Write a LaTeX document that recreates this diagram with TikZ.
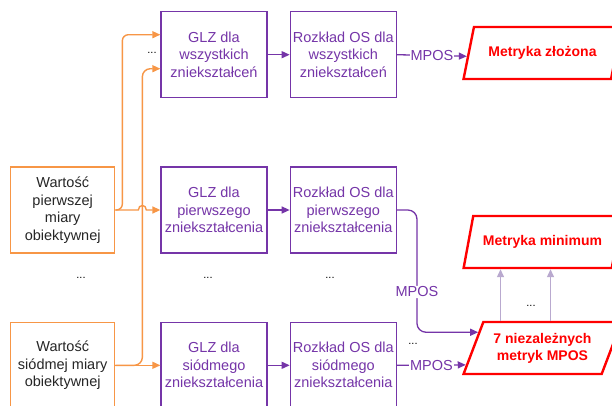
\documentclass[tikz,border=0pt]{standalone}
\usepackage{fontspec}
\setmainfont{Liberation Sans}
\usepackage{xcolor}
\usetikzlibrary{positioning,arrows.meta,shapes.geometric,calc}
\definecolor{orng}{HTML}{F79646}
\definecolor{purp}{HTML}{7535A8}
\definecolor{lgray}{HTML}{B9A9CF}

\begin{document}
\begin{tikzpicture}[x=1pt,y=-1pt,>={Triangle[length=8pt,width=7pt]},
	every node/.style={font=\fontsize{14.5}{17.5}\selectfont,align=center,inner sep=2pt},
	inbox/.style={draw=orng,line width=1.3pt,minimum width=104pt,minimum height=86pt,text=black!85},
	pbox/.style={draw=purp,line width=1.3pt,minimum width=106pt,minimum height=86pt,text=purp},
	metric/.style={trapezium,trapezium left angle=63.4,trapezium right angle=116.6,trapezium stretches=true,
		draw=red,line width=2.4pt,text=red,minimum width=158pt,minimum height=52pt,font=\fontsize{14}{17}\selectfont\bfseries},
	oline/.style={->,draw=orng,line width=1.4pt},
	pline/.style={->,draw=purp,line width=1.3pt},
	gline/.style={->,draw=lgray,line width=1.3pt},
	lbl/.style={fill=white,inner sep=1pt,text=purp},
	dots/.style={font=\fontsize{11}{13}\selectfont,anchor=base}]
	\path[use as bounding box,fill=white] (0,0) rectangle (612,405);

	\node[pbox] (glz2) at (214,210) {GLZ dla\\pierwszego\\zniekształcenia};
	\node[pbox] (glz1) [above=68pt of glz2] {GLZ dla\\wszystkich\\zniekształceń};
	\node[pbox] (glz3) [below=68pt of glz2] {GLZ dla\\siódmego\\zniekształcenia};
	\node[pbox] (roz1) [right=22pt of glz1] {Rozkład OS dla\\wszystkich\\zniekształceń};
	\node[pbox] (roz2) [right=22pt of glz2] {Rozkład OS dla\\pierwszego\\zniekształcenia};
	\node[pbox] (roz3) [right=22pt of glz3] {Rozkład OS dla\\siódmego\\zniekształcenia};
	\node[inbox] (in1) [left=45pt of glz2] {Wartość\\pierwszej\\miary\\obiektywnej};
	\node[inbox] (in2) [left=45pt of glz3] {Wartość\\siódmej miary\\obiektywnej};
	\node[metric] (zloz) at (542.5,53) {Metryka złożona};
	\node[metric] (mini) at (542.5,242) {Metryka minimum};
	\node[metric] (niez) at (542.5,348) {7 niezależnych\\metryk MPOS};

	\coordinate (e1) at ($(zloz.top left corner)!0.56!(zloz.bottom left corner)$);
	\coordinate (e2) at ($(niez.top left corner)!0.21!(niez.bottom left corner)$);
	\coordinate (e3) at ($(niez.top left corner)!0.81!(niez.bottom left corner)$);
	\coordinate (u1) at ($(niez.top left corner)+(18,0)$);
	\coordinate (u2) at ($(niez.top left corner)+(68,0)$);

	% orange inputs
	\draw[oline,rounded corners=6pt] (in1.east) -- ++(7,0) |- ([yshift=20pt]glz1.west);
	\draw[oline,rounded corners=8pt] (in2.east) -- ++(27,0) |- ([yshift=-14pt]glz1.west);
	\draw[oline] (in1.east) -- ++(23,0) .. controls +(0,-6) and +(0,-6) .. ++(8,0) -- (glz2.west);
	\draw[oline] (in2) -- (glz3);

	% purple flow
	\draw[pline] (glz1) -- (roz1);
	\draw[pline] (glz2) -- (roz2);
	\draw[pline] (glz3) -- (roz3);
	\draw[pline] (roz1.east) -- node[lbl] {MPOS} (e1);
	\draw[pline,rounded corners=9pt] (roz2.east) -- ++(20,0) |- node[lbl,pos=0.335] {MPOS} (e2);
	\draw[pline] (roz3.east) -- node[lbl] {MPOS} (e3);

	\draw[gline] (u1) -- (u1 |- mini.bottom left corner);
	\draw[gline] (u2) -- (u2 |- mini.bottom left corner);

	\node[dots] (d1) at (152,53) {...};
	\node[dots] (d2) at (81,278) {...};
	\node[dots] (d3) at (208,278) {...};
	\node[dots] (d4) at (330,278) {...};
	\node[dots] (d5) at (413,344) {...};
	\node[dots] (d6) at (531,306) {...};
\end{tikzpicture}
\end{document}
